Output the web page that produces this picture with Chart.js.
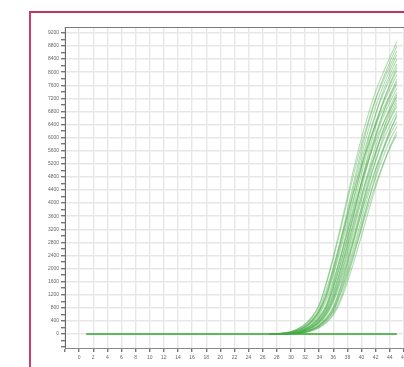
<!DOCTYPE html>
<html>
<head>
<meta charset="utf-8">
<script src="https://cdn.jsdelivr.net/npm/chart.js@4/dist/chart.umd.min.js"></script>
<style>
  html, body { margin: 0; padding: 0; background: #fff; width: 404px; height: 367px; overflow: hidden; }
  #wrap { position: relative; width: 404px; height: 367px; overflow: hidden; }
  #c { position: absolute; left: 0; top: 0; }
  #frame { position: absolute; left: 29px; top: 11px; width: 400px; height: 400px;
           border-left: 2px solid #cc3c6e; border-top: 2px solid #c2335e; pointer-events: none; }
</style>
</head>
<body>
<div id="wrap">
  <canvas id="c" width="440" height="367"></canvas>
  <div id="frame"></div>
</div>
<script>
// Cycle numbers for amplification curves
const cycles = [27,28,29,30,31,32,33,34,35,36,37,38,39,40,41,42,43,44,45];
// Flat baseline (all wells overlap at 0 before amplification)
const baselineCycles = [1, 45];
const baselineValues = [0, 0];
// Y axis tick positions (labels every 400, minor marks every 200)
const yTickStep = 200;
const yLabelStep = 400;
const yTickMin = -400;
const yTickMax = 9200;

// Fluorescence values per well, one array per curve
const well01 = [0,10,30,70,160,300,530,893,1563,2366,3259,4197,5135,5983,6742,7412,7948,8439,8930];
const well02 = [0,5,20,50,120,230,420,724,1239,1990,2849,3780,4730,5634,6448,7172,7778,8302,8800];
const well03 = [0,10,30,65,155,290,515,865,1514,2292,3157,4066,4974,5796,6531,7180,7699,8174,8650];
const well04 = [0,5,20,50,115,225,405,701,1201,1929,2762,3665,4585,5462,6251,6952,7540,8048,8530];
const well05 = [0,0,10,30,70,160,300,530,889,1556,2356,3244,4178,5111,5956,6711,7378,7911,8400];
const well06 = [0,5,20,45,110,215,395,678,1162,1865,2671,3544,4435,5282,6046,6724,7292,7784,8250];
const well07 = [0,0,10,30,70,155,290,505,852,1491,2258,3109,4004,4898,5708,6432,7071,7582,8050];
const well08 = [0,5,18,45,105,205,378,651,1115,1791,2564,3403,4257,5071,5804,6455,7000,7473,7920];
const well09 = [0,0,5,18,48,112,220,395,678,1161,1865,2670,3543,4432,5280,6043,6721,7289,7780];
const well10 = [0,0,10,28,65,148,275,480,809,1415,2143,2951,3800,4649,5417,6104,6711,7196,7640];
const well11 = [0,0,10,28,63,145,270,472,795,1391,2106,2901,3735,4570,5324,6000,6596,7073,7510];
const well12 = [0,0,5,17,45,108,208,374,643,1101,1769,2532,3360,4204,5008,5732,6375,6914,7380];
const well13 = [0,4,16,40,98,190,345,595,1019,1637,2344,3110,3892,4636,5305,5901,6399,6831,7240];
const well14 = [0,0,5,16,44,105,202,362,623,1067,1714,2454,3256,4074,4853,5554,6177,6699,7150];
const well15 = [0,0,0,10,28,65,145,270,475,792,1386,2099,2891,3723,4555,5307,5980,6574,7050];
const well16 = [0,0,9,25,60,135,250,438,735,1287,1949,2684,3456,4229,4927,5552,6104,6545,6950];
const well17 = [0,0,4,16,42,100,192,344,593,1015,1630,2333,3096,3874,4615,5281,5874,6370,6800];
const well18 = [0,0,0,9,26,62,138,255,448,746,1306,1977,2723,3507,4290,4999,5633,6193,6640];
const well19 = [0,0,4,15,40,96,184,328,566,969,1555,2227,2955,3698,4405,5041,5607,6080,6490];
const well20 = [0,0,0,9,25,60,132,243,427,712,1247,1888,2600,3348,4096,4773,5379,5913,6340];
const well21 = [0,0,0,4,15,42,98,188,338,575,984,1581,2264,3004,3758,4477,5124,5698,6180];
const well22 = [0,0,0,8,24,57,127,234,410,683,1195,1810,2493,3211,3928,4577,5157,5670,6080];
const well23 = [0,0,0,10,29,70,152,280,492,820,1435,2174,2994,3855,4716,5495,6193,6808,7300];
const well24 = [0,0,5,19,50,118,230,412,710,1216,1953,2797,3711,4643,5531,6330,7040,7635,8150];
const well25 = [0,0,0,5,17,45,107,203,366,623,1067,1714,2454,3257,4075,4854,5555,6178,6700];
const well26 = [0,9,26,60,140,260,455,770,1348,2041,2811,3619,4428,5159,5814,6391,6853,7277,7700];

const wells = [well01,well02,well03,well04,well05,well06,well07,well08,well09,well10,well11,well12,well13,
               well14,well15,well16,well17,well18,well19,well20,well21,well22,well23,well24,well25,well26];

const datasets = wells.map((vals, i) => ({
  label: 'Well ' + (i + 1),
  data: cycles.map((c, k) => ({ x: c, y: vals[k] })),
  borderColor: 'rgba(72,172,72,0.42)',
  borderWidth: 1.1,
  pointRadius: 0,
  fill: false,
  cubicInterpolationMode: 'monotone'
}));
datasets.push({
  label: 'Baseline',
  data: baselineCycles.map((c, k) => ({ x: c, y: baselineValues[k] })),
  borderColor: 'rgba(92,186,92,1)',
  borderWidth: 2,
  pointRadius: 0,
  fill: false
});

const topLine = {
  id: 'topLine',
  afterDraw(chart) {
    const { ctx, chartArea } = chart;
    ctx.save();
    ctx.strokeStyle = '#7a7a7a';
    ctx.lineWidth = 1;
    ctx.beginPath();
    ctx.moveTo(chartArea.left, chartArea.top + 0.5);
    ctx.lineTo(chartArea.right, chartArea.top + 0.5);
    ctx.stroke();
    ctx.restore();
  }
};

const isLabelTick = (v) => Math.round(v) >= 0 && Math.round(v) % yLabelStep === 0;
const tickFont = { family: 'Liberation Sans', size: 5 };

new Chart(document.getElementById('c'), {
  type: 'line',
  data: { datasets },
  options: {
    responsive: false,
    animation: false,
    devicePixelRatio: 1,
    layout: { padding: { left: 31, top: 27, right: 22, bottom: 0 } },
    plugins: { legend: { display: false }, tooltip: { enabled: false } },
    scales: {
      x: {
        type: 'linear',
        min: -2,
        max: 48,
        afterFit: (s) => { s.height = 19; },
        ticks: {
          stepSize: 2,
          autoSkip: false,
          maxRotation: 0,
          padding: 3,
          font: tickFont,
          color: '#666',
          callback: (v) => (v < 0 ? '' : v)
        },
        grid: { color: '#e7e7e7', lineWidth: 1.4, tickLength: 4, tickColor: '#777' },
        border: { color: '#8a8a8a', width: 1 }
      },
      y: {
        type: 'linear',
        min: -430,
        max: 9380,
        afterFit: (s) => { s.width = 34; },
        afterBuildTicks: (s) => {
          const t = [];
          for (let v = yTickMin; v <= yTickMax; v += yTickStep) t.push({ value: v });
          s.ticks = t;
        },
        ticks: {
          autoSkip: false,
          padding: 2,
          font: tickFont,
          color: '#666',
          callback: (v) => (isLabelTick(v) ? String(Math.round(v)) : '')
        },
        grid: {
          color: (ctx) => (ctx.tick && isLabelTick(ctx.tick.value) ? '#e7e7e7' : 'rgba(0,0,0,0)'),
          lineWidth: 1.4,
          tickLength: 4,
          tickColor: '#777'
        },
        border: { color: '#6a6a6a', width: 1 }
      }
    }
  },
  plugins: [topLine]
});
</script>
</body>
</html>
